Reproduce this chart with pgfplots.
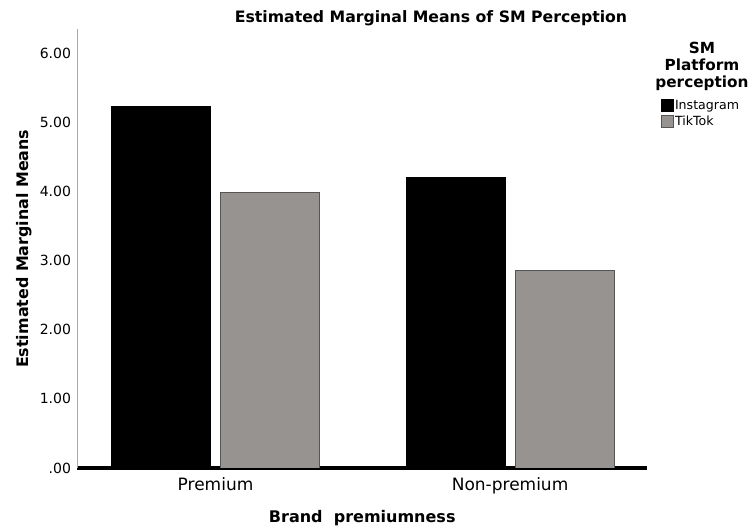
\documentclass[border=0pt]{standalone}
\usepackage{pgfplots}
\pgfplotsset{compat=1.18}
\usepackage{fontspec}
\setmainfont{DejaVu Sans}
\definecolor{tiktok}{HTML}{969391}
\definecolor{tiktokedge}{HTML}{555555}
\definecolor{yaxisgray}{HTML}{AAAAAA}
\begin{document}
\begin{tikzpicture}[x=1pt,y=1pt]
\begin{axis}[
  at={(77.5pt,61pt)}, anchor=south west,
  scale only axis, width=569.5pt, height=438.5pt,
  xmin=-0.4686, xmax=1.465, ymin=0, ymax=6.34,
  axis x line*=bottom, axis y line*=left,
  x axis line style={line width=4pt, black, -},
  y axis line style={line width=1.5pt, yaxisgray, -},
  major tick length=0pt,
  xtick={0,1}, xticklabels={Premium,Non-premium},
  ytick={0,1,2,3,4,5,6},
  yticklabels={.00,1.00,2.00,3.00,4.00,5.00,6.00},
  xticklabel style={font=\fontsize{17}{18}\selectfont, anchor=base, yshift=-23pt},
  yticklabel style={font=\fontsize{14}{15}\selectfont, anchor=east, xshift=-3pt},
  xlabel={\textbf{Brand\ \ premiumness}},
  xlabel style={font=\fontsize{16}{18}\selectfont, at={(axis description cs:0.5,-0.114)}, anchor=center},
  ylabel={\textbf{Estimated Marginal Means}},
  ylabel style={font=\fontsize{15.9}{18}\selectfont, at={(axis description cs:-0.0939,0.5)}, anchor=center},
  ybar, bar width=0.336,
  legend style={draw=none, fill=none, at={(rel axis cs:1.0246,0.8415)}, anchor=north west,
    font=\fontsize{12.6}{15}\selectfont, inner sep=0pt, row sep=3pt,
    nodes={inner sep=1pt, anchor=west}},
  legend cell align=left,
  legend image code/.code={\draw[#1, ybar=0pt, line width=0.8pt] (0pt,-6pt) rectangle (12pt,6pt);},
]
\addplot[fill=black, draw=black, line width=0.8pt, bar shift=-0.185] coordinates {(0,5.23) (1,4.20)};
\addlegendentry{Instagram}
\addplot[fill=tiktok, draw=tiktokedge, line width=0.8pt, bar shift=0.185] coordinates {(0,3.99) (1,2.85)};
\addlegendentry{TikTok}
\end{axis}
\node[font=\fontsize{15.7}{19}\selectfont\bfseries] at (431pt,511pt) {Estimated Marginal Means of SM Perception};
\node[font=\fontsize{15.3}{18.5}\selectfont\bfseries, align=center, anchor=center] at (702pt,463pt) {SM\\[-1.5pt]Platform\\[-1.5pt]perception};
\pgfresetboundingbox
\path[use as bounding box] (0,0) rectangle (752pt,529pt);
\end{tikzpicture}
\end{document}
